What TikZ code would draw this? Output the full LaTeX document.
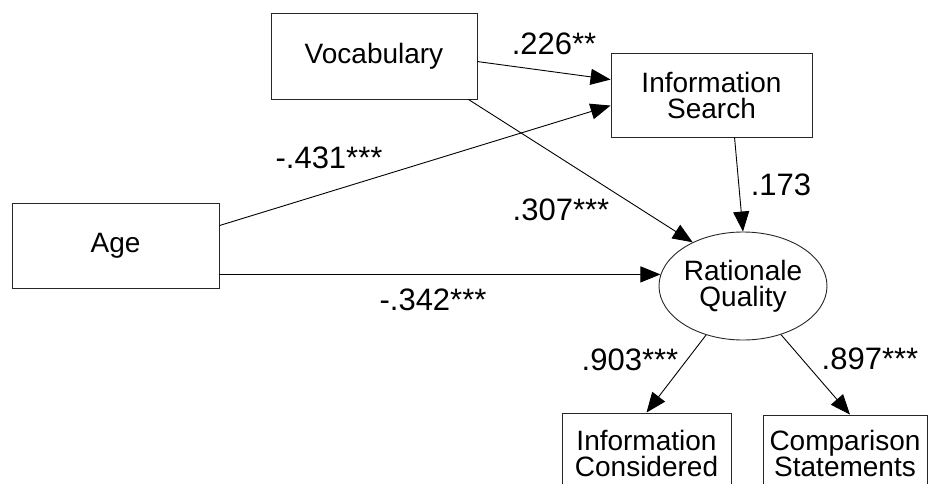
\documentclass[tikz,border=0pt]{standalone}
\usepackage{fontspec}
\setmainfont{Liberation Sans}
\usetikzlibrary{shapes.geometric,arrows.meta,calc}

\begin{document}
\begin{tikzpicture}[x=1pt,y=-1pt,
  box/.style={draw=black!85, line width=0.9pt, rectangle, inner sep=0pt,
    align=center, font=\fontsize{28}{26}\selectfont},
  latent/.style={draw=black!85, line width=0.9pt, ellipse, inner sep=0pt,
    align=center, font=\fontsize{28}{26}\selectfont},
  pathline/.style={line width=0.9pt, -{Triangle[length=20pt,width=16pt]}},
  coef/.style={font=\fontsize{31}{31}\selectfont, inner sep=0pt}]

\useasboundingbox (0,0) rectangle (930,483);
\clip (0,0) rectangle (930,483);

% observed and latent variables
\node[box, minimum width=206pt, minimum height=86pt] (voc) at (374,56) {Vocabulary};
\node[box, minimum width=201pt, minimum height=84pt] (info) at (711.5,95) {Information\\Search};
\node[box, minimum width=207pt, minimum height=85pt] (age) at (115.5,245.5) {Age};
\node[latent, minimum width=168pt, minimum height=108pt] (rq) at (743,286) {Rationale\\Quality};
\node[box, minimum width=169pt, minimum height=80pt] (ic) at (646.5,453) {Information\\Considered};
\node[box, minimum width=164pt, minimum height=76pt] (cs) at (845,453) {Comparison\\Statements};

% structural paths
\draw[pathline] ($(voc.north east)+(0,49)$) -- ($(info.north west)+(0,27)$);
\draw[pathline] ($(age.north east)+(0,23)$) -- ($(info.north west)+(0,53)$);
\draw[pathline] ($(voc.south east)+(-9,0)$) -- (rq.139);
\draw[pathline] (age.east |- rq.172) -- (rq.172);
\draw[pathline] ($(info.south west)+(124,0)$) -- (rq.north);
\draw[pathline] (rq.233) -- (ic.north);
\draw[pathline] (rq.308) -- ($(cs.north)+(5,0)$);

% path coefficients
\node[coef] (c1) at (554,44) {.226**};
\node[coef] (c2) at (329,158) {-.431***};
\node[coef] (c3) at (561,210) {.307***};
\node[coef] (c4) at (781,185) {.173};
\node[coef] (c5) at (433,300) {-.342***};
\node[coef] (c6) at (630,360) {.903***};
\node[coef] (c7) at (870,359) {.897***};
\end{tikzpicture}
\end{document}
